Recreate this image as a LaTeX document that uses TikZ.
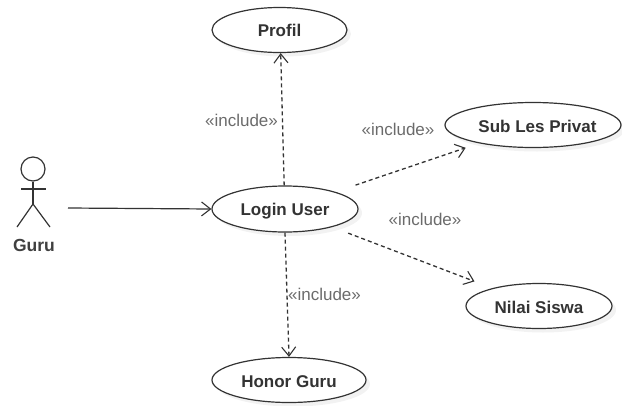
\documentclass[tikz,border=0pt]{standalone}
\usepackage{fontspec}
\setmainfont{Liberation Sans}
\usetikzlibrary{arrows.meta,shadows,shapes.geometric}
\definecolor{inkline}{gray}{0.2}
\definecolor{labelgray}{gray}{0.42}
\newcommand{\casetext}[2]{\makebox[0pt]{\raisebox{#1}[0pt][0pt]{#2}}}
\tikzset{
  usecase/.style={ellipse,draw=inkline,line width=1.2pt,fill=white,inner sep=0pt,font=\fontsize{17}{19}\selectfont\bfseries,text=black!80,
    drop shadow={shadow xshift=4pt,shadow yshift=-4pt,fill=black,opacity=0.05}},
  dep/.style={draw=inkline,line width=1.3pt,dash pattern=on 4pt off 3pt,-{Straight Barb[length=9pt,width=14pt,line width=1.1pt]}},
  assoc/.style={draw=inkline,line width=1.2pt,-{Straight Barb[length=9pt,width=14pt,line width=1.1pt]}},
  stereo/.style={font=\fontsize{17}{19}\selectfont,text=labelgray,inner sep=0pt},
  limb/.style={draw=inkline,line width=1.2pt},
}
\begin{document}
\begin{tikzpicture}[x=1pt,y=-1pt]
\useasboundingbox (0,0) rectangle (622,405);
\node[usecase,minimum width=135pt,minimum height=45pt] (profil) at (279.5,30) {\casetext{-6pt}{Profil}};
\node[usecase,minimum width=146pt,minimum height=46pt] (login) at (285,209) {\casetext{-6pt}{Login User}};
\node[usecase,minimum width=176pt,minimum height=45pt] (subles) at (533,125) {\casetext{-7pt}{\hspace*{9pt}Sub Les Privat}};
\node[usecase,minimum width=146pt,minimum height=45pt] (nilai) at (539,306) {\casetext{-7pt}{Nilai Siswa}};
\node[usecase,minimum width=154pt,minimum height=45pt] (honor) at (289,380) {\casetext{-7pt}{Honor Guru}};
% actor
\node[circle,draw=inkline,line width=1.2pt,minimum size=24pt,inner sep=0pt] (head) at (33,169) {};
\coordinate (hip) at (33,204);
\coordinate (armL) at (21,189);
\coordinate (armR) at (46,189);
\coordinate (legL) at (17,227);
\coordinate (legR) at (50,227);
\draw[limb] (head.south) -- (hip);
\draw[limb] (armL) -- (armR);
\draw[limb] (legL) -- (hip) -- (legR);
\node[font=\fontsize{17.5}{19}\selectfont\bfseries,text=black!75,inner sep=0pt] (guru) at (34,245.5) {Guru};
\coordinate (guruEnd) at (68,208);
% connectors
\draw[assoc] (guruEnd) -- (login.west);
\draw[dep] (login.92) -- (profil.-87);
\draw[dep] (login.south) -- (honor.north);
\draw[dep,shorten <=21pt,shorten >=14pt] (login) -- (subles);
\draw[dep,shorten <=17pt,shorten >=19pt] (login) -- (nilai);
% labels
\node[stereo] (l1) at (241.5,120) {«include»};
\node[stereo] (l2) at (398,129) {«include»};
\node[stereo] (l3) at (425,219) {«include»};
\node[stereo] (l4) at (324.5,294) {«include»};
\end{tikzpicture}
\end{document}
